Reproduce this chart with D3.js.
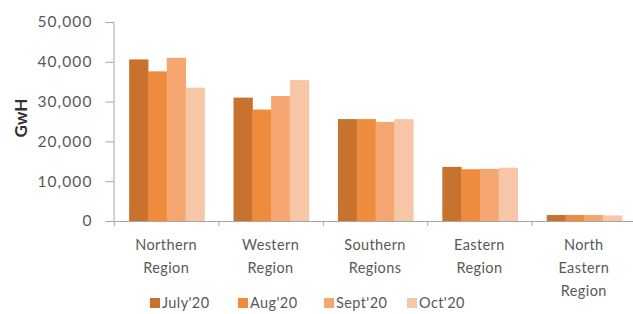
<!DOCTYPE html>
<html>
<head>
<meta charset="utf-8">
<script src="https://cdn.jsdelivr.net/npm/d3@7.9.0/dist/d3.min.js"></script>
<style>
  body { margin: 0; background: #fff; }
  svg text { font-family: Lato, "Open Sans", sans-serif; fill: #595959; }
</style>
</head>
<body>
<svg width="633" height="314"></svg>
<script>
const regions = [["Northern", "Region"], ["Western", "Region"], ["Southern", "Regions"], ["Eastern", "Region"], ["North", "Eastern", "Region"]];
const months = ["July'20", "Aug'20", "Sept'20", "Oct'20"];
const july = [40600, 31000, 25600, 13600, 1500];
const aug = [37600, 28000, 25600, 13000, 1500];
const sept = [41000, 31400, 24900, 13100, 1500];
const oct = [33500, 35400, 25600, 13400, 1400];
const yTicks = [0, 10000, 20000, 30000, 40000, 50000];
const colors = ["#c8722f", "#ee8b3c", "#f6a670", "#f6c6a7"];

const series = [july, aug, sept, oct];
const svg = d3.select("svg");

const x0 = d3.scaleBand().domain(d3.range(regions.length)).range([114, 636]);
const x1 = d3.scaleBand().domain(d3.range(months.length))
  .range([x0.bandwidth() * 0.145, x0.bandwidth() * 0.865]);
const y = d3.scaleLinear().domain([0, 50000]).range([221, 22]);

// bars
regions.forEach((r, i) => {
  const g = svg.append("g").attr("transform", `translate(${x0(i)},0)`);
  series.forEach((s, j) => {
    g.append("rect")
      .attr("x", x1(j))
      .attr("y", y(s[i]))
      .attr("width", x1.bandwidth() + 0.5)
      .attr("height", y(0) - y(s[i]))
      .attr("fill", colors[j]);
  });
});

// y axis
const yAxis = svg.append("g").attr("transform", "translate(113.5,0)")
  .call(d3.axisLeft(y).tickValues(yTicks).tickSize(8).tickPadding(13).tickFormat(d3.format(",")));
yAxis.select(".domain").attr("stroke", "#a6a6a6");
yAxis.selectAll(".tick line").attr("stroke", "#a6a6a6");
yAxis.selectAll("text").style("font-size", "15.5px").attr("letter-spacing", "1.1px");

// x axis line with band boundary ticks
svg.append("line").attr("x1", 113).attr("x2", 633)
  .attr("y1", 221.5).attr("y2", 221.5).attr("stroke", "#a6a6a6");
d3.range(regions.length).forEach(i => {
  svg.append("line").attr("x1", x0(i) + 0.5).attr("x2", x0(i) + 0.5)
    .attr("y1", 221).attr("y2", 226).attr("stroke", "#a6a6a6");
});

// category labels
regions.forEach((lines, i) => {
  const t = svg.append("text")
    .attr("x", x0(i) + x0.bandwidth() / 2)
    .attr("y", 250)
    .attr("text-anchor", "middle")
    .style("font-size", "14.5px")
    .attr("letter-spacing", "0.4px");
  lines.forEach((l, k) => {
    t.append("tspan").attr("x", x0(i) + x0.bandwidth() / 2).attr("dy", k ? 23 : 0).text(l);
  });
});

// y axis title
svg.append("text")
  .attr("transform", "translate(27,118) rotate(-90)")
  .attr("text-anchor", "middle")
  .style("font-size", "17px")
  .style("font-weight", "bold")
  .style("fill", "#303030")
  .text("GwH");

// legend
const legendX = [150, 238, 324, 407];
months.forEach((m, j) => {
  svg.append("rect").attr("x", legendX[j]).attr("y", 298).attr("width", 10).attr("height", 10)
    .attr("fill", colors[j]);
  svg.append("text").attr("x", legendX[j] + 12).attr("y", 308)
    .style("font-size", "14.5px").attr("letter-spacing", "0.4px").text(m);
});
</script>
</body>
</html>
